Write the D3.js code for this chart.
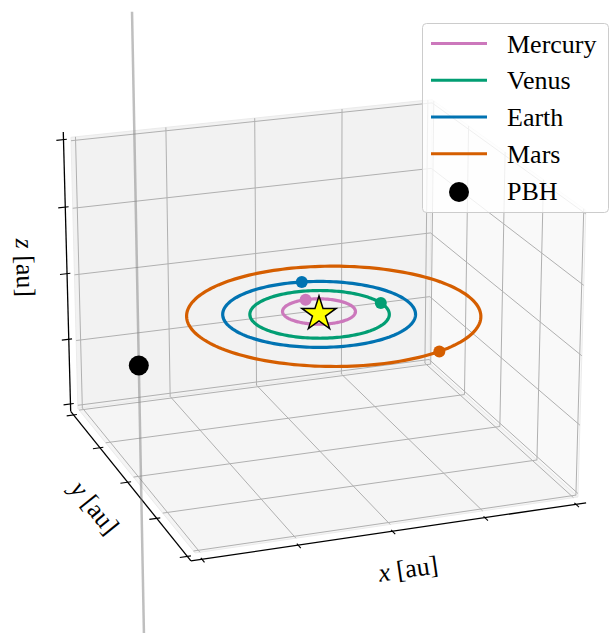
<!DOCTYPE html>
<html>
<head>
<meta charset="utf-8">
<script src="https://cdn.jsdelivr.net/npm/d3@7"></script>
<style>
  body { margin: 0; background: #fff; }
  svg { display: block; }
  text { font-family: "Liberation Serif", "DejaVu Serif", serif; fill: #000; }
</style>
</head>
<body>
<script>
// planets: orbital elements (au, deg) and where each one sits on its orbit
const planets = ['Mercury', 'Venus', 'Earth', 'Mars']
const colors = ['#cc78bc', '#029e73', '#0173b2', '#d55e00']
const semiMajor = [0.387, 0.723, 1.0, 1.524]
const eccentricity = [0.2056, 0.0068, 0.0167, 0.0934]
const perihelion = [77.5, 131.5, 102.9, 336.0]
const longitude = [269, 188, 261, 117.5]

// primordial black hole: current position and z extent of its path
const pbh = [1.97, 0, -0.42]
const pbhPath = [-4.6, 4.55]

const ticks = [-2, -1, 0, 1, 2]
const lim = [-2.05, 2.05]

const W = 611, H = 633
const view = { elev: 20, azim: 70, dist: 10, scale: 3460, cx: 320, cy: 314 }

const svg = d3.select('body').append('svg').attr('width', W).attr('height', H)

// 3d box like matplotlib (aspect 4:4:3)
const aspect = [4, 4, 3]
const k = 1.8294640721620434 / Math.hypot(...aspect)
const bs = aspect.map(a => a * k)
const sx = d3.scaleLinear().domain(lim).range([-bs[0] / 2, bs[0] / 2])
const sy = d3.scaleLinear().domain(lim).range([-bs[1] / 2, bs[1] / 2])
const sz = d3.scaleLinear().domain(lim).range([-bs[2] / 2, bs[2] / 2])

const el = view.elev * Math.PI / 180, az = view.azim * Math.PI / 180
const w = [Math.cos(el) * Math.cos(az), Math.cos(el) * Math.sin(az), Math.sin(el)]
const u = [-Math.sin(az), Math.cos(az), 0]
const v = [-Math.sin(el) * Math.cos(az), -Math.sin(el) * Math.sin(az), Math.cos(el)]

function proj(d) {
  const p = [sx(d[0]), sy(d[1]), sz(d[2])]
  const dot = a => a[0] * p[0] + a[1] * p[1] + a[2] * p[2]
  const den = view.dist - dot(w)
  return [view.cx + view.scale * dot(u) / den, view.cy - view.scale * dot(v) / den]
}

const line3 = d3.line().x(d => proj(d)[0]).y(d => proj(d)[1])

const [lo, hi] = lim
const span = hi - lo
const pad = span / 64

// panes
const panes = [
  { fill: '#f9f9f9', pts: [[lo, lo, lo], [lo, hi, lo], [lo, hi, hi], [lo, lo, hi]] },
  { fill: '#f2f2f2', pts: [[lo, lo, lo], [hi, lo, lo], [hi, lo, hi], [lo, lo, hi]] },
  { fill: '#f5f5f5', pts: [[lo, lo, lo], [hi, lo, lo], [hi, hi, lo], [lo, hi, lo]] }
]
svg.append('g').classed('panes', true)
  .selectAll('path').data(panes).join('path')
  .attr('d', d => line3(d.pts) + 'Z')
  .attr('fill', d => d.fill)
  .attr('stroke', '#ebebeb')

// grid
const grid = []
ticks.forEach(t => {
  grid.push([[t, hi, lo], [t, lo, lo], [t, lo, hi]])
  grid.push([[hi, t, lo], [lo, t, lo], [lo, t, hi]])
  grid.push([[hi, lo, t], [lo, lo, t], [lo, hi, t]])
})
svg.append('g').classed('grid', true)
  .selectAll('path').data(grid).join('path')
  .attr('d', line3)
  .attr('fill', 'none')
  .attr('stroke', '#b0b0b0')
  .attr('stroke-width', 1)

// axis lines and ticks
const xa = hi + pad, ya = hi + pad, za = lo - pad, yb = lo - pad
const axes = [
  [[lo - pad, ya, za], [hi + pad, ya, za]],
  [[xa, lo - pad, za], [xa, hi + pad, za]],
  [[xa, yb, lo - pad], [xa, yb, hi + pad]]
]
const tOut = span * 0.019, tIn = span * 0.009
const tickLines = []
ticks.forEach(t => {
  tickLines.push([[t, ya - tIn, za], [t, ya + tOut, za]])
  tickLines.push([[xa - tIn, t, za], [xa + tOut, t, za]])
  tickLines.push([[xa - tIn, yb, t], [xa + tOut, yb, t]])
})
const axG = svg.append('g').classed('axes', true)
axG.selectAll('path.axis').data(axes).join('path')
  .attr('class', 'axis')
  .attr('d', line3)
  .attr('stroke', '#000')
  .attr('stroke-width', 1.3)
axG.selectAll('path.tick').data(tickLines).join('path')
  .attr('class', 'tick')
  .attr('d', line3)
  .attr('stroke', '#000')
  .attr('stroke-width', 1.1)

// axis labels
const labels = [
  { v: 'x', pos: [0, hi + 0.5, lo - 0.36], axis: axes[0] },
  { v: 'y', pos: [hi + 0.42, 0, lo - 0.37], axis: axes[1] },
  { v: 'z', pos: [hi + 0.43, lo - 0.4, 0], axis: axes[2] }
]
labels.forEach(l => {
  const p = proj(l.pos)
  const a = proj(l.axis[0]), b = proj(l.axis[1])
  let ang = Math.atan2(b[1] - a[1], b[0] - a[0]) * 180 / Math.PI
  ang = ((ang + 90) % 180 + 180) % 180 - 90
  const t = svg.append('text')
    .attr('transform', `translate(${p[0]},${p[1]}) rotate(${ang})`)
    .attr('text-anchor', 'middle')
    .attr('dominant-baseline', 'central')
    .style('font-size', '26px')
  t.append('tspan').style('font-style', 'italic').text(l.v)
  t.append('tspan').text(' [au]')
})

// PBH path
svg.append('path')
  .attr('d', line3([[pbh[0], pbh[1], pbhPath[0]], [pbh[0], pbh[1], pbhPath[1]]]))
  .attr('stroke', '#808080')
  .attr('stroke-opacity', 0.5)
  .attr('stroke-width', 2.5)

// orbits
const angles = d3.range(0, 361, 2)
function orbitR(i, deg) {
  const a = semiMajor[i], e = eccentricity[i]
  return a * (1 - e * e) / (1 + e * Math.cos((deg - perihelion[i]) * Math.PI / 180))
}
function orbitPt(i, deg) {
  const r = orbitR(i, deg), t = deg * Math.PI / 180
  return [r * Math.cos(t), r * Math.sin(t), 0]
}
const orbitG = svg.append('g').classed('orbits', true)
orbitG.selectAll('path').data(planets).join('path')
  .attr('d', (d, i) => line3(angles.map(a => orbitPt(i, a))))
  .attr('fill', 'none')
  .attr('stroke', (d, i) => colors[i])
  .attr('stroke-width', 3.2)

orbitG.selectAll('circle').data(planets).join('circle')
  .attr('cx', (d, i) => proj(orbitPt(i, longitude[i]))[0])
  .attr('cy', (d, i) => proj(orbitPt(i, longitude[i]))[1])
  .attr('r', 6)
  .attr('fill', (d, i) => colors[i])

// sun
const sun = proj([0, 0, 0])
svg.append('path')
  .attr('d', d3.symbol(d3.symbolStar, 364)())
  .attr('transform', `translate(${sun[0] - 1},${sun[1]})`)
  .attr('fill', '#ffff00')
  .attr('stroke', '#000')
  .attr('stroke-width', 1.5)

// PBH
const pb = proj(pbh)
svg.append('circle')
  .attr('cx', pb[0]).attr('cy', pb[1]).attr('r', 10)
  .attr('fill', '#000')

// legend
const leg = svg.append('g').classed('legend', true)
leg.append('rect')
  .attr('x', 422.5).attr('y', 23.5).attr('width', 186).attr('height', 189)
  .attr('rx', 4)
  .attr('fill', '#fff').attr('fill-opacity', 0.8)
  .attr('stroke', '#cccccc')
const rowY = d3.scaleLinear().domain([0, 4]).range([43.5, 190.5])
const legItems = planets.concat(['PBH'])
legItems.forEach((name, i) => {
  const y = rowY(i)
  if (i < planets.length) {
    leg.append('line')
      .attr('x1', 431).attr('x2', 487).attr('y1', y).attr('y2', y)
      .attr('stroke', colors[i]).attr('stroke-width', 3)
  } else {
    leg.append('circle').attr('cx', 459).attr('cy', y + 1.5).attr('r', 10).attr('fill', '#000')
  }
  leg.append('text')
    .attr('x', 507).attr('y', y + 9)
    .style('font-size', '26px')
    .text(name)
})
</script>
</body>
</html>
